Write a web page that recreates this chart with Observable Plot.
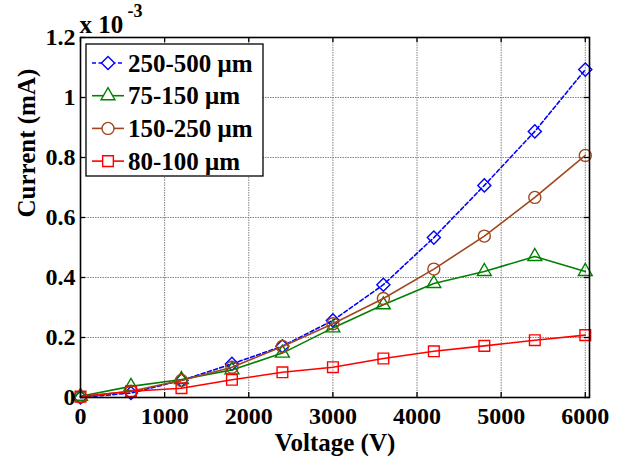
<!DOCTYPE html>
<html>
<head>
<meta charset="utf-8">
<script src="https://cdn.jsdelivr.net/npm/d3@7"></script>
<script src="https://cdn.jsdelivr.net/npm/@observablehq/plot@0.6"></script>
<style>
  html, body { margin: 0; padding: 0; background: #fff; }
  #chart { width: 619px; height: 456px; }
</style>
</head>
<body>
<div id="chart"></div>
<script>
// Data (current in units of 1e-3 mA)
const voltage = [0, 600, 1200, 1800, 2400, 3000, 3600, 4200, 4800, 5400, 6000];
const s250_500 = [0.000, 0.015, 0.057, 0.112, 0.171, 0.257, 0.376, 0.533, 0.707, 0.887, 1.093];
const s75_150  = [0.004, 0.037, 0.060, 0.092, 0.148, 0.232, 0.309, 0.380, 0.420, 0.470, 0.420];
const s150_250 = [0.002, 0.021, 0.057, 0.101, 0.170, 0.246, 0.330, 0.428, 0.538, 0.667, 0.807];
const s80_100  = [0.003, 0.021, 0.031, 0.059, 0.084, 0.101, 0.130, 0.154, 0.172, 0.191, 0.208];
const seriesNames = ["250-500 \u03bcm", "75-150 \u03bcm", "150-250 \u03bcm", "80-100 \u03bcm"];
const seriesValues = [s250_500, s75_150, s150_250, s80_100];
const xTicks = [0, 1000, 2000, 3000, 4000, 5000, 6000];
const yTicks = [0, 0.2, 0.4, 0.6, 0.8, 1, 1.2];
const yTickLabels = ["0", "0.2", "0.4", "0.6", "0.8", "1", "1.2"];

const styles = [
  {color: "#0000ff", symbol: "diamond2", r: 5.9, dash: "4,2.5", d3sym: d3.symbolDiamond2},
  {color: "#008000", symbol: "triangle2", r: 6.6, dash: null, d3sym: d3.symbolTriangle2},
  {color: "#a0461e", symbol: "circle", r: 6, dash: null, d3sym: d3.symbolCircle},
  {color: "#ff0000", symbol: "square2", r: 6.8, dash: null, d3sym: d3.symbolSquare2}
];

const rows = [];
seriesNames.forEach((name, i) => {
  voltage.forEach((v, j) => rows.push({series: name, idx: i, v, c: seriesValues[i][j]}));
});

const font = "'Liberation Serif', 'Times New Roman', 'DejaVu Serif', serif";
const W = 619, H = 456, mL = 80, mR = 30, mT = 37, mB = 59;
const frameH = H - mT - mB, frameW = W - mL - mR;
const tickLen = 5;

const marks = [
  Plot.gridX(xTicks, {stroke: "#777", strokeOpacity: 1, strokeWidth: 0.9, strokeDasharray: "1.5,1"}),
  Plot.gridY(yTicks, {stroke: "#777", strokeOpacity: 1, strokeWidth: 0.9, strokeDasharray: "1.5,1"}),
  // inward ticks on all four sides
  Plot.tickX(xTicks, {x: d => d, insetTop: frameH - tickLen, stroke: "black", strokeWidth: 1.3}),
  Plot.tickX(xTicks, {x: d => d, insetBottom: frameH - tickLen, stroke: "black", strokeWidth: 1.3}),
  Plot.tickY(yTicks, {y: d => d, insetRight: frameW - tickLen, stroke: "black", strokeWidth: 1.3}),
  Plot.tickY(yTicks, {y: d => d, insetLeft: frameW - tickLen, stroke: "black", strokeWidth: 1.3}),
];

styles.forEach((st, i) => {
  const data = rows.filter(d => d.idx === i);
  marks.push(Plot.line(data, {x: "v", y: "c", stroke: st.color, strokeWidth: 1.6, strokeDasharray: st.dash}));
  marks.push(Plot.dot(data, {x: "v", y: "c", symbol: () => st.symbol, r: st.r, stroke: st.color, strokeWidth: 1.4, fill: "none"}));
});

marks.push(Plot.frame({stroke: "black", strokeWidth: 1.6}));

// tick labels
marks.push(Plot.text(xTicks, {x: d => d, text: d => String(d), frameAnchor: "bottom", lineAnchor: "top", dy: 9,
  fontSize: 24, fontWeight: "bold", fill: "black"}));
marks.push(Plot.text(yTicks, {y: d => d, text: (d, i) => yTickLabels[i], frameAnchor: "left", textAnchor: "end", dx: -5,
  fontSize: 24, fontWeight: "bold", fill: "black"}));
// axis labels
marks.push(Plot.text(["Voltage (V)"], {text: d => d, frameAnchor: "bottom", lineAnchor: "bottom", dy: 53,
  fontSize: 25, fontWeight: "bold", fill: "black"}));
marks.push(Plot.text(["Current (mA)"], {text: d => d, frameAnchor: "left", rotate: -90, dx: -54,
  fontSize: 25, fontWeight: "bold", fill: "black"}));
// exponent
marks.push(Plot.text(["x 10"], {text: d => d, frameAnchor: "top-left", textAnchor: "start", lineAnchor: "bottom", dx: -1, dy: -5,
  fontSize: 25, fontWeight: "bold", fill: "black"}));
marks.push(Plot.text(["-3"], {text: d => d, frameAnchor: "top-left", textAnchor: "start", lineAnchor: "bottom", dx: 47, dy: -21,
  fontSize: 18, fontWeight: "bold", fill: "black"}));

const chart = Plot.plot({
  width: W,
  height: H,
  marginLeft: mL,
  marginRight: mR,
  marginTop: mT,
  marginBottom: mB,
  x: {domain: [0, 6050], axis: null},
  y: {domain: [0, 1.2], axis: null},
  style: {background: "white", color: "black"},
  marks
});

// Legend
const svg = d3.select(chart);
const lg = svg.append("g").attr("text-anchor", "start");
lg.append("rect").attr("x", 86).attr("y", 44).attr("width", 177).attr("height", 132)
  .attr("fill", "white").attr("stroke", "black").attr("stroke-width", 1.3);
styles.forEach((st, i) => {
  const cy = 63 + i * 32.7;
  lg.append("line").attr("x1", 92).attr("x2", 124).attr("y1", cy).attr("y2", cy)
    .attr("stroke", st.color).attr("stroke-width", 1.6).attr("stroke-dasharray", st.dash);
  lg.append("path").attr("d", d3.symbol().type(st.d3sym).size(Math.PI * st.r * st.r)())
    .attr("transform", `translate(108,${cy})`).attr("fill", "white").attr("stroke", st.color).attr("stroke-width", 1.4);
  lg.append("text").attr("x", 128).attr("y", cy + 8.5).attr("font-size", 25).attr("font-weight", "bold")
    .attr("text-anchor", "start").attr("fill", "black").text(seriesNames[i]);
});

// serif font on every text element
svg.style("font-family", font);
svg.selectAll("text").style("font-family", font);

document.getElementById("chart").appendChild(chart);
</script>
</body>
</html>
